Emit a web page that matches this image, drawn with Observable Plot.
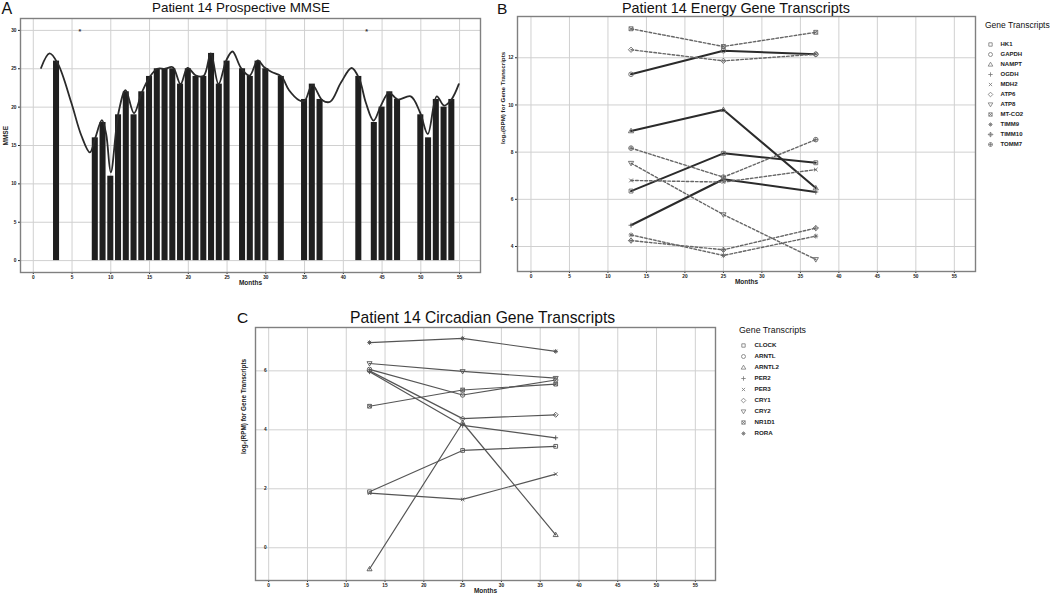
<!DOCTYPE html>
<html><head><meta charset="utf-8">
<script src="https://cdn.jsdelivr.net/npm/d3@7"></script>
<script src="https://cdn.jsdelivr.net/npm/@observablehq/plot@0.6"></script>
<style>
body{margin:0;background:#fff;}
#root{position:relative;width:1050px;height:597px;overflow:hidden;font-family:"Liberation Sans",Arial,sans-serif;background:#fff;}
#root > *{position:absolute;}
.t{white-space:nowrap;line-height:1.1;color:#111;}
</style></head><body><div id="root"></div>
<script>
// ---------- Panel A data ----------
const mmseMonths = [3,8,9,10,11,12,13,14,15,16,17,18,19,20,21,22,23,24,25,27,28,29,30,32,35,36,37,42,44,45,46,47,50,51,52,53,54];
const mmseScores = [26,16,18,11,19,22,19,22,24,25,25,25,23,25,24,24,27,23,26,25,24,26,25,24,21,23,21,24,18,20,22,21,19,16,21,20,21];
const smoothMonths = [1.0,2.1,3.2,4.9,6.2,7.3,8.0,8.85,9.4,10.0,11.0,11.9,13.0,14.0,15.0,16.0,17.0,18.0,19.0,19.9,21.0,22.0,22.9,23.9,24.9,25.7,26.8,27.9,28.95,29.8,30.7,32.0,33.0,34.3,35.0,36.0,37.3,38.3,39.7,41.07,42.05,42.9,43.9,44.85,45.9,47.0,48.7,49.9,50.9,52.06,53.0,53.95,54.9];
const smoothValues = [25.1,27.0,25.6,20.6,16.3,14.1,16.0,18.3,16.5,11.5,19.3,22.2,19.2,21.9,23.9,25.0,25.0,25.2,23.0,25.1,24.1,24.1,27.0,23.0,26.1,27.25,25.1,24.1,26.1,25.2,24.6,24.0,22.2,20.9,20.8,22.9,20.9,20.7,23.2,25.1,23.7,20.6,18.25,20.2,21.9,21.0,21.4,19.3,16.5,21.4,20.2,21.0,23.0];
const starMonths = [6, 43];
const starValues = [30, 30];
const monthTicks = [0,5,10,15,20,25,30,35,40,45,50,55];
const mmseTicks = [0,5,10,15,20,25,30];

// ---------- Panel B data ----------
const energyMonths = [13, 25, 37];
const energyGenes = ["HK1","GAPDH","NAMPT","OGDH","MDH2","ATP6","ATP8","MT-CO2","TIMM9","TIMM10","TOMM7"];
const HK1    = [6.35, 7.95, 7.55];
const GAPDH  = [11.3, 12.3, 12.15];
const NAMPT  = [8.9, 9.8, 6.48];
const OGDH   = [4.9, 6.85, 6.31];
const MDH2   = [6.8, 6.73, 7.26];
const ATP6   = [12.34, 11.87, 12.15];
const ATP8   = [7.53, 5.35, 3.45];
const MT_CO2 = [13.23, 12.48, 13.08];
const TIMM9  = [4.49, 3.62, 4.44];
const TIMM10 = [4.25, 3.86, 4.78];
const TOMM7  = [8.17, 6.94, 8.53];
const energyTicks = [4,6,8,10,12];

// ---------- Panel C data ----------
const circMonths = [13, 25, 37];
const circGenes = ["CLOCK","ARNTL","ARNTL2","PER2","PER3","CRY1","CRY2","NR1D1","RORA"];
const CLOCK  = [1.9, 3.3, 3.44];
const ARNTL  = [6.05, 5.18, 5.69];
const ARNTL2 = [-0.72, 4.24, 0.44];
const PER2   = [5.97, 4.15, 3.73];
const PER3   = [1.85, 1.64, 2.5];
const CRY1   = [6.0, 4.38, 4.51];
const CRY2   = [6.25, 5.98, 5.75];
const NR1D1  = [4.8, 5.35, 5.55];
const RORA   = [6.96, 7.1, 6.66];
const circTicks = [0,2,4,6];

// ---------- symbols (ggplot shapes 0..10) ----------
function sym(f){return {draw(c,size){const r=Math.sqrt(size/Math.PI); f(c,r);}};}
const sq=(c,s)=>{c.moveTo(-s,-s);c.lineTo(s,-s);c.lineTo(s,s);c.lineTo(-s,s);c.closePath();};
const pl=(c,r)=>{c.moveTo(-r,0);c.lineTo(r,0);c.moveTo(0,-r);c.lineTo(0,r);};
const tx=(c,s)=>{c.moveTo(-s,-s);c.lineTo(s,s);c.moveTo(-s,s);c.lineTo(s,-s);};
const dm=(c,r)=>{c.moveTo(0,-r);c.lineTo(r,0);c.lineTo(0,r);c.lineTo(-r,0);c.closePath();};
const ci=(c,r)=>{c.moveTo(r,0);c.arc(0,0,r,0,2*Math.PI);};
const shapes = [
  sym((c,r)=>sq(c,r*0.85)),
  sym((c,r)=>ci(c,r)),
  sym((c,r)=>{const h=r*1.15;c.moveTo(0,-h);c.lineTo(h,h*0.7);c.lineTo(-h,h*0.7);c.closePath();}),
  sym((c,r)=>pl(c,r*1.1)),
  sym((c,r)=>tx(c,r*0.8)),
  sym((c,r)=>dm(c,r*1.15)),
  sym((c,r)=>{const h=r*1.15;c.moveTo(0,h);c.lineTo(h,-h*0.7);c.lineTo(-h,-h*0.7);c.closePath();}),
  sym((c,r)=>{sq(c,r*0.85);tx(c,r*0.85);}),
  sym((c,r)=>{pl(c,r*1.05);tx(c,r*0.75);}),
  sym((c,r)=>{dm(c,r*1.15);pl(c,r*1.15);}),
  sym((c,r)=>{ci(c,r);pl(c,r);})
];

// ---------- helpers ----------
const root = document.getElementById("root");
function place(el,left,top){el.style.left=left+"px";el.style.top=top+"px";root.appendChild(el);return el;}
function label(txt,left,top,size,weight){
  const d=document.createElement("div");d.className="t";d.textContent=txt;
  d.style.fontSize=size+"px";d.style.fontWeight=weight||"normal";
  place(d,left,top);return d;
}
const baseStyle = {fontSize:"4.8px",fontWeight:"bold",fontFamily:"'Liberation Sans',Arial,sans-serif",color:"#222",background:"transparent",overflow:"visible"};
const gridStroke = "#d0d0d0";

// ---------- Panel A ----------
const mmseData = mmseMonths.map((m,i)=>({month:m,score:mmseScores[i]}));
const smoothData = smoothMonths.map((m,i)=>({month:m,value:smoothValues[i]}));
const starData = starMonths.map((m,i)=>({month:m,value:starValues[i]}));
const plotA = Plot.plot({
  width:490,height:300,marginLeft:20,marginRight:10,marginTop:18,marginBottom:28,
  style:baseStyle,
  x:{domain:[-1.65,57.7],ticks:monthTicks,tickSize:2,tickPadding:1,label:null},
  y:{domain:[-1.55,31.55],ticks:mmseTicks,tickSize:2,tickPadding:2,label:null},
  marks:[
    Plot.ruleX(monthTicks,{stroke:gridStroke,strokeWidth:1}),
    Plot.ruleY(mmseTicks,{stroke:gridStroke,strokeWidth:1}),
    Plot.rectY(mmseData,{x1:d=>d.month-0.39,x2:d=>d.month+0.39,y1:0,y2:"score",fill:"#1f1f1f"}),
    Plot.line(smoothData,{x:"month",y:"value",curve:"catmull-rom",stroke:"#2a2a2a",strokeWidth:1.8}),
    Plot.text(starData,{x:"month",y:"value",text:()=>"*",fontSize:7,dy:1.5,fill:"#333"}),
    Plot.frame({stroke:"#808080",strokeWidth:1.4}),
    Plot.text(["MMSE"],{frameAnchor:"left",dx:-14.5,rotate:-90,fontSize:6.5,fontWeight:"bold",fill:"#222"}),
    Plot.text(["Months"],{frameAnchor:"bottom",dy:12,fontSize:6.5,fontWeight:"bold",fill:"#222"})
  ]
});
place(plotA,0,0);

// ---------- Panel B ----------
const energySeries = [HK1,GAPDH,NAMPT,OGDH,MDH2,ATP6,ATP8,MT_CO2,TIMM9,TIMM10,TOMM7];
const energySolid = [true,true,true,true,false,false,false,false,false,false,false];
const energyRows = energyGenes.map((g,i)=>energyMonths.map((m,j)=>({gene:g,month:m,value:energySeries[i][j]})));
const plotB = Plot.plot({
  width:485,height:300,marginLeft:22,marginRight:5,marginTop:16,marginBottom:29,
  style:baseStyle,
  x:{domain:[-1.75,57.75],ticks:monthTicks,tickSize:2,tickPadding:1,label:null},
  y:{domain:[2.94,13.75],ticks:energyTicks,tickSize:2,tickPadding:2,label:null},
  marks:[
    Plot.ruleX(monthTicks,{stroke:gridStroke,strokeWidth:1}),
    Plot.ruleY(energyTicks,{stroke:gridStroke,strokeWidth:1}),
    ...energyRows.map((rows,i)=>Plot.line(rows,{x:"month",y:"value",
        stroke: energySolid[i]?"#2b2b2b":"#666",
        strokeWidth: energySolid[i]?2:1.4,
        strokeDasharray: energySolid[i]?null:"2.6,2"})),
    ...energyRows.map((rows,i)=>Plot.dot(rows,{x:"month",y:"value",symbol:shapes[i],r:2.3,stroke:"#666",strokeWidth:0.9,fill:"none"})),
    Plot.frame({stroke:"#808080",strokeWidth:1.4}),
    Plot.text(["log\u2082(RPM) for Gene Transcripts"],{frameAnchor:"left",dx:-14,rotate:-90,fontSize:6.2,fontWeight:"bold",fill:"#222"}),
    Plot.text(["Months"],{frameAnchor:"bottom",dy:12,fontSize:6.5,fontWeight:"bold",fill:"#222"})
  ]
});
place(plotB,495,0);

// Legend B
const legendB = Plot.plot({
  width:70,height:160,marginTop:39,marginBottom:12,marginLeft:0,marginRight:0,
  style:{...baseStyle,fontSize:"6px"},
  x:{domain:[0,1],axis:null},
  y:{type:"point",domain:energyGenes,padding:0,axis:null},
  marks:[
    ...energyGenes.map((g,i)=>Plot.dot([g],{y:d=>d,frameAnchor:"left",dx:10,symbol:shapes[i],r:2,stroke:"#777",strokeWidth:0.8,fill:"none"})),
    Plot.text(energyGenes,{y:d=>d,text:d=>d,frameAnchor:"left",dx:20,textAnchor:"start",fontSize:6,fontWeight:"bold",fill:"#222"})
  ]
});
place(legendB,980,0);

// ---------- Panel C ----------
const circSeries = [CLOCK,ARNTL,ARNTL2,PER2,PER3,CRY1,CRY2,NR1D1,RORA];
const circRows = circGenes.map((g,i)=>circMonths.map((m,j)=>({gene:g,month:m,value:circSeries[i][j]})));
const plotC = Plot.plot({
  width:490,height:297,marginLeft:25,marginRight:5,marginTop:27,marginBottom:17,
  style:baseStyle,
  x:{domain:[-1.7,57.6],ticks:monthTicks,tickSize:2,tickPadding:1,label:null},
  y:{domain:[-1.11,7.47],axis:null},
  marks:[
    Plot.ruleX(monthTicks,{stroke:gridStroke,strokeWidth:1}),
    Plot.ruleY(circTicks,{stroke:gridStroke,strokeWidth:1}),
    ...circRows.map(rows=>Plot.line(rows,{x:"month",y:"value",stroke:"#555",strokeWidth:1.2})),
    ...circRows.map((rows,i)=>Plot.dot(rows,{x:"month",y:"value",symbol:shapes[i],r:2.2,stroke:"#555",strokeWidth:0.9,fill:"none"})),
    Plot.text(circTicks,{y:d=>d,text:d=>String(d),frameAnchor:"left",dx:8.5,fontSize:4.8,fontWeight:"bold",fill:"#222"}),
    Plot.frame({stroke:"#808080",strokeWidth:1.4}),
    Plot.text(["log\u2082(RPM) for Gene Transcripts"],{frameAnchor:"left",dx:-12,rotate:-90,fontSize:6.4,fontWeight:"bold",fill:"#222"}),
    Plot.text(["Months"],{frameAnchor:"bottom",dy:12,fontSize:6.5,fontWeight:"bold",fill:"#222"})
  ]
});
place(plotC,230,300);

// Legend C
const legendC = Plot.plot({
  width:100,height:150,marginTop:44.3,marginBottom:16,marginLeft:0,marginRight:0,
  style:{...baseStyle,fontSize:"6px"},
  x:{domain:[0,1],axis:null},
  y:{type:"point",domain:circGenes,padding:0,axis:null},
  marks:[
    ...circGenes.map((g,i)=>Plot.dot([g],{y:d=>d,frameAnchor:"left",dx:8,symbol:shapes[i],r:2,stroke:"#777",strokeWidth:0.8,fill:"none"})),
    Plot.text(circGenes,{y:d=>d,text:d=>d,frameAnchor:"left",dx:19,textAnchor:"start",fontSize:6.2,fontWeight:"bold",fill:"#222"})
  ]
});
place(legendC,735,300);

// ---------- titles ----------
label("A",1.5,0,16);
label("Patient 14 Prospective MMSE",152,1,13.4);
label("B",497,0,15.5);
label("Patient 14 Energy Gene Transcripts",622,0.5,14.4);
label("Gene Transcripts",985,20.5,8.5);
label("C",237,309,15.5);
label("Patient 14 Circadian Gene Transcripts",350,308.5,15.7);
label("Gene Transcripts",739,325.5,8.8);
</script></body></html>
